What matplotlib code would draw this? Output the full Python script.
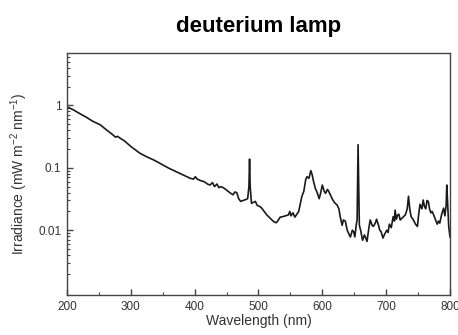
import matplotlib
matplotlib.use("Agg")
import matplotlib.pyplot as plt
from matplotlib.ticker import LogLocator, FixedLocator, MultipleLocator, NullFormatter

plt.rcParams['font.family'] = ['Liberation Sans', 'DejaVu Sans']
plt.rcParams['mathtext.fontset'] = 'custom'
plt.rcParams['mathtext.rm'] = 'Liberation Sans'
plt.rcParams['mathtext.it'] = 'Liberation Sans:italic'
plt.rcParams['mathtext.bf'] = 'Liberation Sans:bold'

# Deuterium lamp spectral irradiance
wavelength = [
    200, 210, 220, 230, 240, 252, 260, 270, 276, 279, 283, 290, 300, 314, 325, 335,
    345, 360, 375, 385, 393, 398, 401, 404, 410, 415, 420, 424, 428, 431, 435,
    438, 441, 445, 450, 455, 460, 463, 466, 469, 472, 476, 480, 483, 485, 486,
    487, 489, 492, 495, 498, 502, 505, 509, 513, 517, 521, 525, 528, 531, 534,
    538, 542, 547, 549, 551, 554, 557, 560, 563, 566, 568, 571, 574, 576, 579,
    582, 584, 586, 589, 592, 595, 597, 600, 603, 605, 608, 610, 613, 616, 620,
    623, 626, 628, 631, 633, 636, 639, 642, 644, 647, 649, 651, 653, 654.5, 656,
    658, 660, 663, 666, 668, 670, 673, 675, 678, 680, 683, 685, 688, 690, 692,
    695, 698, 701, 703, 705, 708, 711, 713, 714, 716, 718, 720, 722, 726, 730,
    733, 735, 737, 739, 742, 746, 749, 751, 753, 756, 758, 760, 762, 764, 766,
    768, 770, 772, 774, 777, 780, 782, 784, 787, 790, 792, 794, 795, 796.5, 798,
    800,
]
irradiance = [
    0.95, 0.85, 0.74, 0.65, 0.56, 0.49, 0.42, 0.35, 0.31, 0.32, 0.30, 0.27, 0.22, 0.172, 0.15, 0.135,
    0.119, 0.098, 0.083, 0.074, 0.068, 0.066, 0.072, 0.066, 0.062, 0.060, 0.055, 0.053, 0.058, 0.050, 0.055,
    0.048, 0.050, 0.048, 0.044, 0.040, 0.037, 0.041, 0.040, 0.032, 0.029, 0.030, 0.031, 0.032, 0.05, 0.138,
    0.05, 0.027, 0.028, 0.029, 0.025, 0.024, 0.0226, 0.020, 0.0176, 0.016, 0.0146, 0.0135, 0.0132, 0.0145, 0.0162,
    0.0165, 0.017, 0.0176, 0.020, 0.017, 0.019, 0.0162, 0.018, 0.020, 0.028, 0.035, 0.042, 0.065, 0.072, 0.068,
    0.090, 0.078, 0.062, 0.047, 0.040, 0.032, 0.038, 0.053, 0.042, 0.039, 0.045, 0.042, 0.036, 0.031, 0.027,
    0.0255, 0.022, 0.0165, 0.012, 0.0146, 0.014, 0.010, 0.0085, 0.0078, 0.010, 0.0095, 0.0078, 0.012, 0.0146, 0.234,
    0.012, 0.010, 0.0069, 0.0084, 0.0075, 0.0066, 0.011, 0.0146, 0.012, 0.0115, 0.013, 0.015, 0.012, 0.010, 0.0095,
    0.0075, 0.0088, 0.010, 0.0092, 0.0125, 0.011, 0.0165, 0.014, 0.021, 0.015, 0.0176, 0.018, 0.0146, 0.016, 0.0176,
    0.022, 0.035, 0.022, 0.0165, 0.015, 0.0125, 0.0115, 0.018, 0.026, 0.022, 0.0305, 0.024, 0.022, 0.030, 0.029,
    0.022, 0.019, 0.020, 0.018, 0.015, 0.0125, 0.014, 0.013, 0.018, 0.0226, 0.017, 0.025, 0.053, 0.025, 0.0115,
    0.0078,
]

x_ticks = [200, 300, 400, 500, 600, 700, 800]
y_ticks = [0.01, 0.1, 1]
y_tick_labels = ['0.01', '0.1', '1']

fig = plt.figure(figsize=(4.58, 3.35), dpi=100)
ax = fig.add_axes([0.1463, 0.1194, 0.8362, 0.7224])

ax.plot(wavelength, irradiance, color='#1a1a1a', linewidth=1.2)

ax.set_yscale('log')
ax.set_xlim(200, 800)
ax.set_ylim(0.000915, 6.93)

ax.xaxis.set_major_locator(FixedLocator(x_ticks))
ax.xaxis.set_minor_locator(MultipleLocator(50))
ax.yaxis.set_major_locator(FixedLocator(y_ticks))
ax.set_yticklabels(y_tick_labels)
ax.yaxis.set_minor_locator(LogLocator(base=10, subs=range(2, 10), numticks=20))
ax.yaxis.set_minor_formatter(NullFormatter())

ax.tick_params(axis='both', which='both', direction='in', colors='#444444',
               labelcolor='#333333', labelsize=8.5)
ax.tick_params(axis='both', which='major', length=4, width=1)
ax.tick_params(axis='both', which='minor', length=2, width=0.8)
ax.tick_params(axis='x', which='both', top=False, pad=4)
ax.tick_params(axis='y', which='both', right=False, pad=4)

for s in ax.spines.values():
    s.set_color('#444444')
    s.set_linewidth(1.0)

ax.set_xlabel('Wavelength (nm)', fontsize=10, color='#333333', labelpad=1)
ax.set_ylabel('Irradiance (mW m$^{-2}$ nm$^{-1}$)', fontsize=10, color='#333333', labelpad=6)
ax.set_title('deuterium lamp', fontsize=16, fontweight='bold', pad=15)

fig.savefig('out.png', dpi=100)
